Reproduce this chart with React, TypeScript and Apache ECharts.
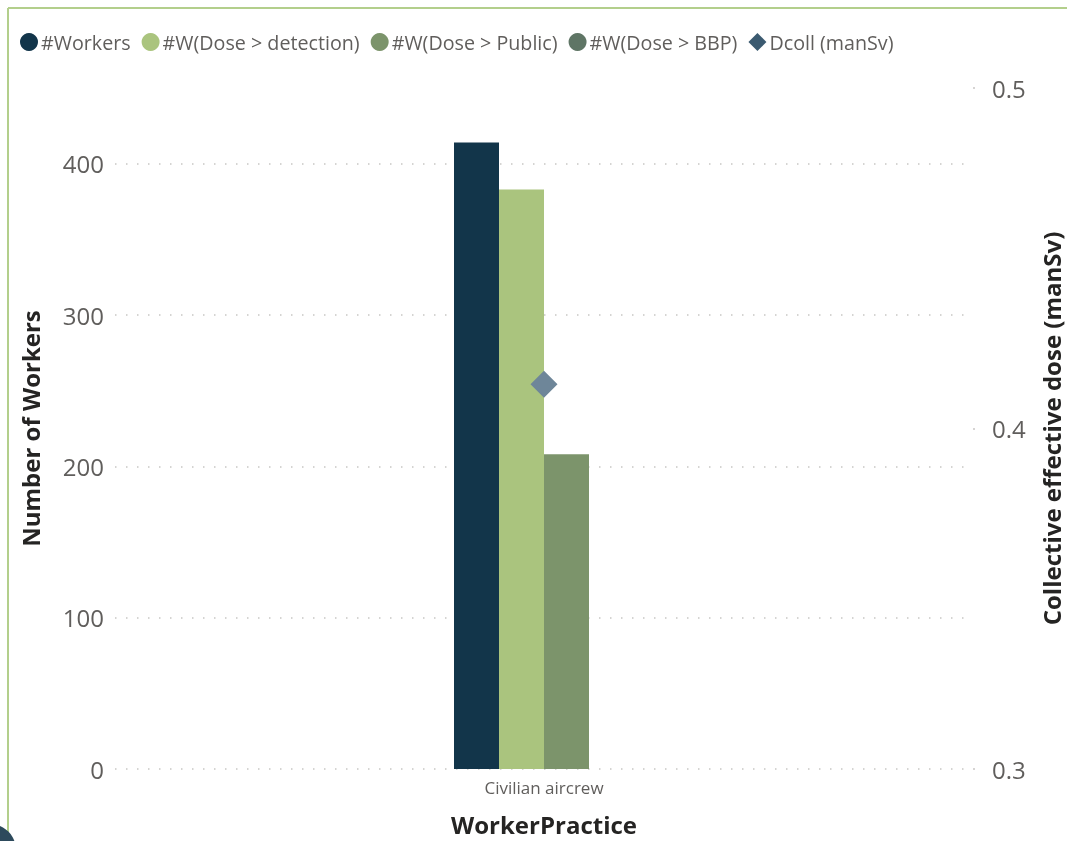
import React, { useEffect, useRef } from "react";
import * as echarts from "echarts";

const categories = ["Civilian aircrew"];
const workers = [414];
const wDetection = [383];
const wPublic = [208];
const wBBP = [0];
const dcoll = [0.413];
const seriesNames = ["#Workers", "#W(Dose > detection)", "#W(Dose > Public)", "#W(Dose > BBP)", "Dcoll (manSv)"];

const FONT = "'Segoe UI', 'Open Sans', 'Noto Sans', sans-serif";

export default function App() {
  const ref = useRef<HTMLDivElement>(null);
  useEffect(() => {
    if (!ref.current) return;
    const chart = echarts.init(ref.current, null, { renderer: "svg" });
    const barStyle = (color: string) => ({ color });
    chart.setOption({
      animation: false,
      textStyle: { fontFamily: FONT },
      graphic: [
        { type: "line", shape: { x1: 8, y1: 8, x2: 1067, y2: 8 }, style: { stroke: "#B3CF8C", lineWidth: 2 } },
        { type: "line", shape: { x1: 8, y1: 8, x2: 8, y2: 841 }, style: { stroke: "#B3CF8C", lineWidth: 2 } },
        { type: "circle", shape: { cx: -10, cy: 850, r: 26 }, style: { fill: "#2D4A5C" } },
      ],
      legend: {
        left: 15,
        top: 27,
        itemWidth: 18,
        itemHeight: 18,
        itemGap: 11,
        textStyle: { fontSize: 19.7, color: "#605E5C", fontFamily: FONT, padding: [0, 0, 0, -2] },
        data: [
          { name: seriesNames[0], icon: "circle" },
          { name: seriesNames[1], icon: "circle" },
          { name: seriesNames[2], icon: "circle" },
          { name: seriesNames[3], icon: "circle" },
          { name: seriesNames[4], icon: "diamond", itemStyle: { color: "#3B5A70" } },
        ],
      },
      grid: { left: 115, right: 94, top: 88, bottom: 72, outerBoundsMode: "none", containLabel: false },
      xAxis: {
        type: "category",
        data: categories,
        axisLine: { show: false },
        axisTick: { show: false },
        axisLabel: { fontSize: 17, color: "#605E5C", margin: 10 },
        name: "WorkerPractice",
        nameLocation: "middle",
        nameGap: 43,
        nameTextStyle: { fontSize: 24, fontWeight: "bold", color: "#252423" },
      },
      yAxis: [
        {
          type: "value",
          min: 0,
          max: 450,
          interval: 100,
          axisLine: { show: false },
          axisTick: { show: false },
          axisLabel: { fontSize: 24, color: "#605E5C", margin: 11, showMaxLabel: false },
          splitLine: {
            show: true,
            showMaxLine: false,
            lineStyle: { color: "#C8C6C4", width: 1.5, type: [1.5, 9.5] },
          },
          name: "Number of Workers",
          nameLocation: "middle",
          nameRotate: 90,
          nameGap: 73,
          nameTextStyle: { fontSize: 24, fontWeight: "bold", color: "#252423" },
        },
        {
          type: "value",
          min: 0.3,
          max: 0.5,
          interval: 0.1,
          position: "right",
          axisLine: { show: false },
          axisTick: { show: true, length: 2, lineStyle: { color: "#C8C6C4", width: 1.5 } },
          axisLabel: { fontSize: 24, color: "#605E5C", margin: 19, formatter: (v: number) => v.toFixed(1) },
          splitLine: { show: false },
          name: "Collective effective dose (manSv)",
          nameLocation: "middle",
          nameRotate: 90,
          nameGap: 66,
          nameTextStyle: { fontSize: 24, fontWeight: "bold", color: "#252423" },
        },
      ],
      series: [
        { name: seriesNames[0], type: "bar", data: workers, barWidth: 45, barGap: "0%", itemStyle: barStyle("#12354A") },
        { name: seriesNames[1], type: "bar", data: wDetection, barWidth: 45, barGap: "0%", itemStyle: barStyle("#AAC47E") },
        { name: seriesNames[2], type: "bar", data: wPublic, barWidth: 45, barGap: "0%", itemStyle: barStyle("#7C946B") },
        { name: seriesNames[3], type: "bar", data: wBBP, barWidth: 45, barGap: "0%", itemStyle: barStyle("#5F7565") },
        {
          name: seriesNames[4],
          type: "line",
          yAxisIndex: 1,
          data: dcoll,
          symbol: "diamond",
          symbolSize: 27,
          lineStyle: { width: 0 },
          itemStyle: { color: "#6E8699" },
        },
      ],
    });
    return () => chart.dispose();
  }, []);
  return <div ref={ref} style={{ position: "fixed", left: 0, top: 0, width: 1067, height: 841 }} />;
}
